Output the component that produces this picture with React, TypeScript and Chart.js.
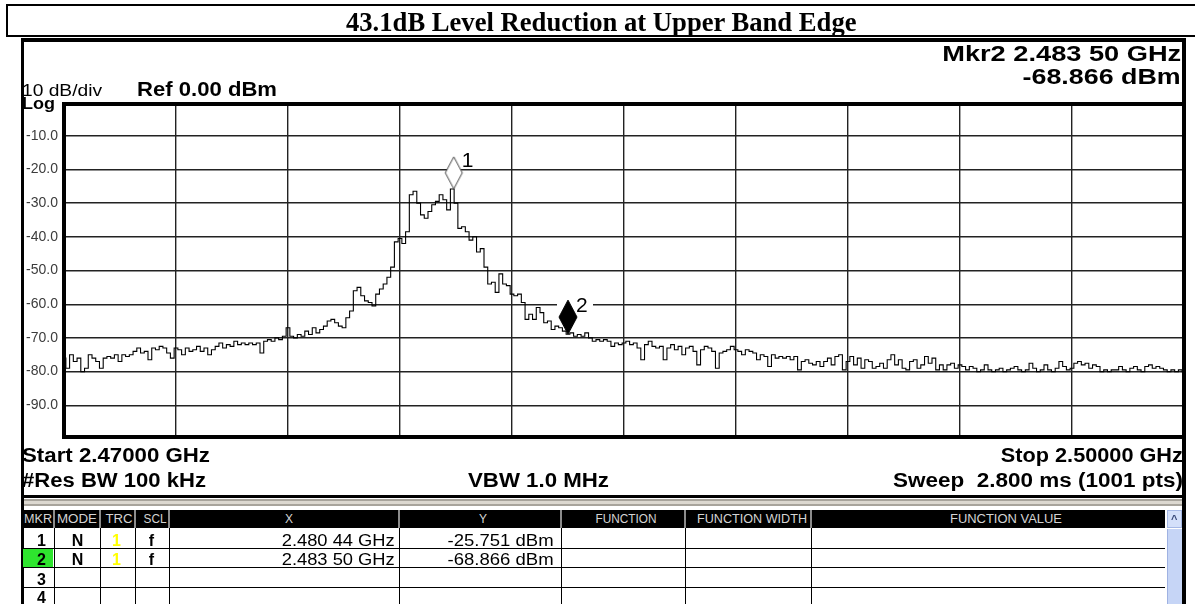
import React, { useEffect, useRef } from 'react';
import { Chart, registerables } from 'chart.js';

Chart.register(...registerables);

const W = 1195;
const H = 604;

// Sweep definition (MHz)
const FREQ_START_MHZ = 2470;
const FREQ_STOP_MHZ = 2500;
const FREQ_STEP_MHZ = 0.1;
const X_DIV_MHZ = 3;

// Level axis (dBm)
const REF_LEVEL_DBM = 0;
const BOTTOM_LEVEL_DBM = -100;
const DB_PER_DIV = 10;

const LEVELS_DBM = [
  -76, -79, -75, -77, -76, -80, -79, -75, -76, -77,
  -79, -76, -75.5, -76, -75, -77, -75, -75.5, -75, -74,
  -73, -74.5, -74, -76.5, -73, -73.5, -72.5, -73, -74.5, -76,
  -73, -73.5, -75, -73, -74, -73.5, -72.5, -74, -73, -75,
  -73.5, -72.5, -71.5, -73, -72, -72.5, -71, -72, -71.5, -72,
  -71.5, -72, -71.5, -74.5, -71, -70.5, -71, -70, -70.5, -69.5,
  -67, -69.5, -70, -69, -69.5, -68, -69, -67, -68.5, -67.5,
  -66.5, -65, -64.5, -65.5, -66.5, -67, -64, -62, -56, -55,
  -57.5, -59, -59.5, -60.5, -57, -55.5, -54, -52, -49, -41.5,
  -40.5, -42, -38.5, -27.5, -26.5, -30, -33.5, -34.5, -32.5, -30.5,
  -29.5, -27.5, -29, -32, -25.8, -30, -37.5, -37, -38.5, -41,
  -40, -44.5, -43.5, -49, -54, -53.5, -56.5, -51, -54, -54.5,
  -57, -57.5, -57, -59.5, -64.5, -63, -64.5, -61, -62.5, -65.5,
  -65, -67.5, -66.5, -67, -68, -68.9, -68.5, -69.5, -69, -69.5,
  -68.5, -70, -71, -70.5, -71, -70.5, -71, -72.5, -71.5, -72,
  -71.5, -71, -72, -71.5, -73, -76.5, -72, -71, -72.5, -73,
  -72.5, -76.5, -73, -72, -73.5, -72.5, -75, -73, -72.5, -74,
  -78, -73.5, -72.5, -73, -74, -79, -74.5, -74, -73.5, -72.5,
  -73.5, -74, -75, -73.5, -74, -74.5, -76.5, -75, -75.5, -78.5,
  -75, -76, -75.5, -76, -75.5, -76.5, -75.5, -79.5, -77, -76.5,
  -77.5, -78, -77, -78.5, -77, -76, -78, -75.5, -75, -79.5,
  -77, -75.5, -78, -76, -79, -76.5, -77, -79, -78.5, -77.5,
  -79, -76.5, -75, -78, -76.5, -79, -79.5, -77, -76.5, -79,
  -78, -75.5, -77.5, -76, -79.5, -78, -79.5, -78, -77.5, -79,
  -78, -78.5, -79.5, -78.5, -79, -80, -79.5, -78, -79.5, -80,
  -79.5, -79, -80, -79.5, -79, -78.5, -79.5, -80, -79.5, -77.5,
  -79, -80, -79.5, -78, -79.5, -80, -79, -77, -78.5, -79.5,
  -79, -77.5, -77, -78, -77.5, -79, -78, -78.5, -80, -79.5,
  -80, -79.5, -79.5, -78.5, -79.5, -80, -79, -78.5, -79.5, -80,
  -78.5, -78, -79, -78.5, -79, -79.5, -80, -79.5, -80, -79.5, -80,
];

// Markers
const MARKER_IDS = ['1', '2'];
const MARKER_FREQ_MHZ = [2480.44, 2483.5];
const MARKER_LEVEL_DBM = [-25.751, -68.866];
const MARKER_MODE = ['N', 'N'];
const MARKER_TRACE = ['1', '1'];
const MARKER_SCALE = ['f', 'f'];
const TABLE_ROWS = ['1', '2', '3', '4'];
const ACTIVE_MARKER = 1; // index of Mkr2

const fmtFreq = (mhz: number) => {
  const s = (mhz / 1000).toFixed(5);
  return `${s.slice(0, 5)} ${s.slice(5)} GHz`;
};
const fmtLevel = (v: number) => `${v.toFixed(3)} dBm`;

const mctx = typeof document !== 'undefined' ? document.createElement('canvas').getContext('2d') : null;

type TP = {
  text: string;
  base: number;
  size: number;
  left?: number;
  right?: number;
  center?: number;
  width?: number;
  bold?: boolean;
  serif?: boolean;
  color?: string;
};

function Txt(p: TP) {
  const family = p.serif ? '"Liberation Serif"' : '"Liberation Sans"';
  const weight = p.bold ? 'bold' : 'normal';
  let sx = 1;
  if (p.width && mctx) {
    mctx.font = `${weight} ${p.size}px ${family}`;
    const w = mctx.measureText(p.text).width;
    if (w > 0) sx = p.width / w;
  }
  const asc = p.serif ? 0.8375 : 0.8465;
  const st: any = {
    position: 'absolute',
    top: p.base - p.size * asc,
    fontFamily: family,
    fontWeight: weight,
    fontSize: p.size,
    lineHeight: `${p.size}px`,
    whiteSpace: 'pre',
    color: p.color || '#000',
  };
  if (p.center !== undefined) {
    st.left = p.center;
    st.transform = `translateX(-50%) scaleX(${sx})`;
    st.transformOrigin = 'center top';
  } else if (p.right !== undefined) {
    st.right = W - p.right;
    st.transform = `scaleX(${sx})`;
    st.transformOrigin = 'right top';
  } else {
    st.left = p.left;
    st.transform = `scaleX(${sx})`;
    st.transformOrigin = 'left top';
  }
  return <div style={st}>{p.text}</div>;
}

function Box(p: { l: number; t: number; w: number; h: number; bg?: string; style?: any; children?: any }) {
  return (
    <div
      style={{
        position: 'absolute',
        left: p.l,
        top: p.t,
        width: p.w,
        height: p.h,
        background: p.bg,
        boxSizing: 'border-box',
        ...(p.style || {}),
      }}
    >
      {p.children}
    </div>
  );
}

function diamondImage(w: number, h: number, filled: boolean) {
  const c = document.createElement('canvas');
  c.width = w + 4;
  c.height = h * 2 + 4;
  const g = c.getContext('2d')!;
  const cx = c.width / 2;
  const bottom = c.height / 2;
  g.beginPath();
  g.moveTo(cx, bottom - h);
  g.lineTo(cx + w / 2, bottom - h / 2);
  g.lineTo(cx, bottom);
  g.lineTo(cx - w / 2, bottom - h / 2);
  g.closePath();
  g.fillStyle = filled ? '#000' : '#fff';
  g.fill();
  g.lineWidth = 1;
  g.strokeStyle = filled ? '#000' : '#444';
  g.stroke();
  return c;
}

const framePlugin = {
  id: 'frame',
  afterDraw(chart: any) {
    const { ctx, chartArea: a } = chart;
    ctx.save();
    ctx.fillStyle = '#000';
    ctx.fillRect(a.left - 2, a.top, a.right - a.left + 4, 4);
    ctx.fillRect(a.left - 2, a.bottom - 4, a.right - a.left + 4, 4);
    ctx.fillRect(a.left - 2, a.top, 4, a.bottom - a.top);
    ctx.fillRect(a.right - 2, a.top, 4, a.bottom - a.top);
    ctx.restore();
  },
};

const markerLabelPlugin = {
  id: 'markerLabels',
  beforeDatasetsDraw(chart: any) {
    const ctx = chart.ctx;
    MARKER_IDS.forEach((_, k) => {
      const el = chart.getDatasetMeta(k).data[0];
      if (!el) return;
      ctx.save();
      ctx.fillStyle = '#fff';
      ctx.fillRect(el.x - 11, el.y - 40, 36, 19);
      ctx.restore();
    });
  },
  afterDatasetsDraw(chart: any) {
    const ctx = chart.ctx;
    MARKER_IDS.forEach((id, k) => {
      const el = chart.getDatasetMeta(k).data[0];
      if (!el) return;
      ctx.save();
      ctx.fillStyle = '#000';
      ctx.font = '21px "Liberation Sans"';
      ctx.textBaseline = 'alphabetic';
      ctx.textAlign = 'left';
      ctx.fillText(id, el.x + 8, el.y - 22);
      ctx.restore();
    });
  },
};

function SpectrumChart() {
  const ref = useRef<HTMLCanvasElement | null>(null);
  useEffect(() => {
    if (!ref.current) return;
    const trace = LEVELS_DBM.map((v, i) => ({ x: FREQ_START_MHZ + i * FREQ_STEP_MHZ, y: v }));
    const img1 = diamondImage(17, 32, false);
    const img2 = diamondImage(18, 34, true);
    const chart = new Chart(ref.current, {
      type: 'scatter',
      data: {
        datasets: [
          {
            label: 'Mkr1',
            data: [{ x: MARKER_FREQ_MHZ[0], y: MARKER_LEVEL_DBM[0] }],
            pointStyle: img1 as any,
            pointRadius: 5,
            showLine: false,
          },
          {
            label: 'Mkr2',
            data: [{ x: MARKER_FREQ_MHZ[1], y: MARKER_LEVEL_DBM[1] }],
            pointStyle: img2 as any,
            pointRadius: 5,
            showLine: false,
          },
          {
            label: 'Trace 1',
            data: trace,
            showLine: true,
            pointRadius: 0,
            borderColor: '#000',
            borderWidth: 1.1,
            stepped: 'middle',
            fill: false,
          } as any,
        ],
      },
      options: {
        animation: false,
        responsive: false,
        events: [],
        layout: { padding: { left: 0, right: W - 1184, top: 102, bottom: H - 439 } },
        plugins: { legend: { display: false }, tooltip: { enabled: false } },
        scales: {
          x: {
            type: 'linear',
            min: FREQ_START_MHZ,
            max: FREQ_STOP_MHZ,
            ticks: { display: false, stepSize: X_DIV_MHZ },
            grid: { color: '#222', lineWidth: 1.4, drawTicks: false },
            border: { display: false },
            afterFit: (s: any) => {
              s.height = 0;
              s.paddingLeft = 0;
              s.paddingRight = 0;
            },
          },
          y: {
            min: BOTTOM_LEVEL_DBM,
            max: REF_LEVEL_DBM,
            ticks: {
              stepSize: DB_PER_DIV,
              padding: 6,
              color: '#3c3c3c',
              font: { family: 'Liberation Sans', size: 14 },
              callback: (v: any) => (v === REF_LEVEL_DBM || v === BOTTOM_LEVEL_DBM ? null : Number(v).toFixed(1)),
            },
            grid: { color: '#222', lineWidth: 1.4, drawTicks: false },
            border: { display: false },
            afterFit: (s: any) => {
              s.width = 64;
              s.paddingTop = 0;
              s.paddingBottom = 0;
            },
          },
        },
      } as any,
      plugins: [markerLabelPlugin, framePlugin],
    });
    return () => chart.destroy();
  }, []);
  return <canvas ref={ref} width={W} height={H} style={{ display: 'block', width: W, height: H }} />;
}

const HEADER_CELLS = [
  { t: 'MKR', l: 23, r: 53, c: 38, w: 28 },
  { t: 'MODE', l: 55, r: 99, c: 77, w: 40 },
  { t: 'TRC', l: 101, r: 134, c: 119, w: 27 },
  { t: 'SCL', l: 136, r: 168, c: 154.5, w: 23 },
  { t: 'X', l: 170, r: 398, c: 289, w: 0 },
  { t: 'Y', l: 400, r: 560, c: 483, w: 0 },
  { t: 'FUNCTION', l: 562, r: 684, c: 626, w: 61 },
  { t: 'FUNCTION WIDTH', l: 686, r: 810, c: 752, w: 110 },
  { t: 'FUNCTION VALUE', l: 812, r: 1165, c: 1006, w: 112 },
];
const COL_LINES = [53.5, 99.5, 134.5, 168.5, 398.5, 560.5, 684.5, 810.5];
const ROW_LINES = [547.5, 567, 586.5];
const ROW_BASE = [546.5, 566, 585.5, 604];

export default function App() {
  const mk = ACTIVE_MARKER;
  return (
    <div style={{ position: 'absolute', left: 0, top: 0, width: W, height: H, overflow: 'hidden', background: '#fff' }}>
      <div style={{ position: 'absolute', left: 0, top: 0 }}>
        <SpectrumChart />
      </div>

      {/* title box */}
      <Box l={6} t={4} w={1300} h={33} style={{ border: '2px solid #000' }} />
      <Txt text="43.1dB Level Reduction at Upper Band Edge" left={346} base={31} size={26.5} bold serif width={511} />

      {/* screen frame */}
      <Box l={21} t={37.5} w={1165} h={4} bg="#000" />
      <Box l={21} t={37.5} w={3} h={570} bg="#000" />
      <Box l={1182} t={37.5} w={4} h={570} bg="#000" />

      {/* top annotations */}
      <Txt text={`Mkr${MARKER_IDS[mk]} ${fmtFreq(MARKER_FREQ_MHZ[mk])}`} right={1181} base={61.5} size={22} bold width={239} />
      <Txt text={fmtLevel(MARKER_LEVEL_DBM[mk])} right={1181} base={85} size={22} bold width={158} />
      <Txt text="10 dB/div" left={22} base={96.5} size={16} width={80} />
      <Txt text="Ref 0.00 dBm" left={137} base={96.5} size={19.5} bold width={140} />
      <Txt text="Log" left={22} base={110} size={16} bold width={33} />

      {/* bottom annotations */}
      <Txt text="Start 2.47000 GHz" left={22} base={461.5} size={20} bold width={188} />
      <Txt text="#Res BW 100 kHz" left={22} base={486.5} size={20} bold width={184} />
      <Txt text="VBW 1.0 MHz" left={468} base={486.5} size={20} bold width={141} />
      <Txt text="Stop 2.50000 GHz" right={1183} base={461.5} size={20} bold width={182} />
      <Txt text="Sweep  2.800 ms (1001 pts)" right={1183} base={486.5} size={20} bold width={290} />

      {/* separators */}
      <Box l={21} t={495} w={1165} h={3} bg="#000" />
      <Box l={24} t={499} w={1158} h={7} bg="#dcd8d0" style={{ borderTop: '2px solid #a8a49c', borderBottom: '2px solid #a8a49c' }} />

      {/* table header */}
      <Box l={23} t={510} w={1142} h={18} bg="#8c8c8c" />
      {HEADER_CELLS.map((c) => (
        <Box key={c.t} l={c.l} t={510} w={c.r - c.l} h={18} bg="#000" />
      ))}
      {HEADER_CELLS.map((c) => (
        <Txt key={'h' + c.t} text={c.t} center={c.c} base={523} size={12} width={c.w || undefined} color="#d4d4d4" />
      ))}

      {/* table body */}
      <Box l={23} t={548.5} w={30} h={18} bg="#2ee52e" />
      {ROW_LINES.map((y) => (
        <Box key={'r' + y} l={23} t={y} w={1142} h={1} bg="#000" />
      ))}
      {COL_LINES.map((x) => (
        <Box key={'c' + x} l={x} t={528} w={1} h={80} bg="#000" />
      ))}
      {TABLE_ROWS.map((r, i) => (
        <Txt key={'m' + r} text={r} right={46} base={ROW_BASE[i]} size={16} bold />
      ))}
      {MARKER_IDS.map((_, i) => (
        <React.Fragment key={'row' + i}>
          <Txt text={MARKER_MODE[i]} center={77.5} base={ROW_BASE[i]} size={16} bold />
          <Txt text={MARKER_TRACE[i]} center={116.5} base={ROW_BASE[i]} size={16} bold color="#ffff00" />
          <Txt text={MARKER_SCALE[i]} center={151.5} base={ROW_BASE[i]} size={16} bold />
          <Txt text={fmtFreq(MARKER_FREQ_MHZ[i])} right={395} base={ROW_BASE[i]} size={16} width={113} />
          <Txt text={fmtLevel(MARKER_LEVEL_DBM[i])} right={554} base={ROW_BASE[i]} size={16} width={106} />
        </React.Fragment>
      ))}

      {/* scrollbar */}
      <Box l={1167} t={510} w={15} h={18} bg="#d4e0fa" style={{ border: '1px solid #a6b9e6' }}>
        <div style={{ position: 'absolute', left: 3, top: 3, fontFamily: '"Liberation Sans"', fontSize: 11, lineHeight: '11px', color: '#3a4a7a', fontWeight: 'bold' }}>^</div>
      </Box>
      <Box l={1167} t={529} w={15} h={80} bg="#c6d5f6" style={{ borderLeft: '1px solid #9fb2e2' }} />
    </div>
  );
}
